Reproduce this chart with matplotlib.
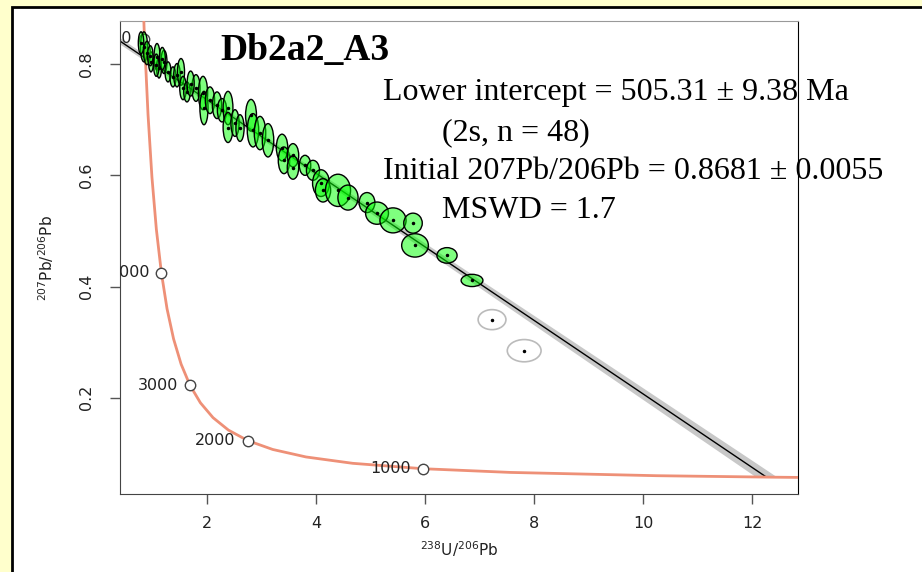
import matplotlib.pyplot as plt
from matplotlib.patches import Ellipse, Rectangle

# concordia curve (Tera-Wasserburg), ages in Ma
conc_age = [450, 500, 600, 800, 1000, 1250, 1500, 1750, 2000, 2250, 2500, 2750,
            3000, 3250, 3500, 3750, 4000, 4250, 4500, 4750, 5000, 5250]
conc_x = [13.83, 12.40, 10.252, 7.568, 5.959, 4.673, 3.817, 3.206, 2.749, 2.394, 2.111, 1.880,
          1.687, 1.525, 1.387, 1.267, 1.163, 1.071, 0.990, 0.918, 0.853, 0.795]
conc_y = [0.05594, 0.05722, 0.05990, 0.06580, 0.07249, 0.08218, 0.09360, 0.10707, 0.12299,
          0.14185, 0.16426, 0.19091, 0.22266, 0.26054, 0.30583, 0.36006, 0.42502, 0.50301,
          0.59672, 0.70947, 0.84531, 1.00904]
tick_ages = [1000, 2000, 3000, 4000, 5000]

# discordia line from initial 207/206 to lower intercept
disc_x = [0.0, 12.264]
disc_y = [0.8681, 0.0574]
band_x = [0.0, 2.0, 4.0, 6.0, 8.0, 10.0, 12.0, 12.46, 12.07, 12.0, 10.0, 8.0, 6.0, 4.0, 2.0, 0.0]
band_y = [0.8741, 0.7409, 0.6087, 0.4779, 0.3477, 0.2175, 0.0873, 0.0572,
          0.0575, 0.0623, 0.1965, 0.3307, 0.4649, 0.5987, 0.7309, 0.8621]

# analyses used in the fit: centre x, centre y, width, height
ell_x = [0.844, 0.899, 0.973, 1.083, 1.120, 1.211, 1.285, 1.376, 1.450, 1.523, 1.560, 1.633,
         1.798, 1.927, 1.945, 2.055, 2.184, 2.276, 2.386, 2.386, 2.514, 2.606, 2.808, 2.844,
         2.973, 3.120, 3.377, 3.413, 3.578, 3.578, 3.799, 3.945, 4.092, 4.129, 4.404, 4.587,
         4.936, 5.120, 5.413, 5.780, 5.817, 6.404, 6.863, 0.790, 0.960, 1.070, 1.180, 1.700]
ell_y = [0.831, 0.820, 0.804, 0.813, 0.793, 0.804, 0.786, 0.777, 0.780, 0.786, 0.757, 0.750,
         0.757, 0.748, 0.721, 0.735, 0.726, 0.717, 0.721, 0.686, 0.694, 0.685, 0.708, 0.681,
         0.676, 0.663, 0.650, 0.627, 0.636, 0.614, 0.618, 0.609, 0.586, 0.573, 0.573, 0.560,
         0.551, 0.532, 0.519, 0.514, 0.474, 0.456, 0.411, 0.838, 0.815, 0.798, 0.810, 0.765]
ell_w = [0.13, 0.12, 0.09, 0.11, 0.09, 0.11, 0.11, 0.11, 0.12, 0.13, 0.12, 0.12,
         0.15, 0.17, 0.15, 0.17, 0.17, 0.17, 0.18, 0.18, 0.15, 0.15, 0.20, 0.21,
         0.21, 0.21, 0.21, 0.21, 0.21, 0.21, 0.21, 0.24, 0.31, 0.28, 0.46, 0.37,
         0.29, 0.42, 0.48, 0.34, 0.49, 0.37, 0.40, 0.10, 0.10, 0.10, 0.11, 0.13]
ell_h = [0.054, 0.042, 0.036, 0.048, 0.036, 0.042, 0.036, 0.036, 0.042, 0.048, 0.042, 0.036,
         0.048, 0.060, 0.060, 0.048, 0.048, 0.042, 0.060, 0.054, 0.048, 0.048, 0.057, 0.060,
         0.060, 0.060, 0.048, 0.048, 0.042, 0.042, 0.036, 0.036, 0.048, 0.042, 0.058, 0.045,
         0.036, 0.040, 0.045, 0.036, 0.042, 0.028, 0.022, 0.040, 0.036, 0.040, 0.040, 0.045]

# rejected analyses
rej_x = [7.23, 7.82]
rej_y = [0.3405, 0.2847]
rej_w = [0.51, 0.62]
rej_h = [0.036, 0.040]

fig = plt.figure(figsize=(9.22, 5.72), dpi=100)
fig.patch.set_facecolor('#FFFFCC')
fig.patches.append(Rectangle((12 / 922, -0.02), 1.0, 1 - 7 / 572 + 0.02,
                             transform=fig.transFigure, facecolor='white',
                             edgecolor='black', linewidth=2, zorder=-1))

ax = fig.add_axes([120 / 922, 1 - 494 / 572, 678 / 922, 473 / 572])
ax.set_xlim(0.404, 12.844)
ax.set_ylim(0.027, 0.8775)

ax.fill(band_x, band_y, color='#C8C8C8', lw=0, zorder=1)
ax.plot(disc_x, disc_y, color='black', lw=1, zorder=2)
ax.plot(conc_x, conc_y, color='#EE9077', lw=2, zorder=3)

for a in tick_ages:
    i = conc_age.index(a)
    ax.plot(conc_x[i], conc_y[i], 'o', ms=7.5, mfc='white', mec='#444444', mew=1, zorder=4)
    ax.annotate(str(a), (conc_x[i], conc_y[i]), xytext=(-12, 0), textcoords='offset pixels',
                ha='right', va='center', fontsize=11.5, color='#222222',
                annotation_clip=False, clip_on=True, zorder=4)

for x, y, w, h in zip(ell_x, ell_y, ell_w, ell_h):
    ax.add_patch(Ellipse((x, y), w, h, facecolor=(0, 1, 0, 0.5), edgecolor='black', lw=1, zorder=5))
ax.plot(ell_x, ell_y, 'o', ms=1.5, color='black', zorder=6)

for x, y, w, h in zip(rej_x, rej_y, rej_w, rej_h):
    ax.add_patch(Ellipse((x, y), w, h, facecolor='none', edgecolor='#BBBBBB', lw=1.2, zorder=5))
ax.plot(rej_x, rej_y, 'o', ms=1.5, color='black', zorder=6)

ax.set_xticks([2, 4, 6, 8, 10, 12])
ax.set_yticks([0.2, 0.4, 0.6, 0.8])
ax.set_yticklabels(['0.2', '0.4', '0.6', '0.8'], rotation=90, va='center')
ax.tick_params(length=7, width=1, color='#555555', labelcolor='#222222', labelsize=11.5)
ax.tick_params(axis='x', pad=9)
ax.tick_params(axis='y', pad=12)
for side in ['left', 'bottom']:
    ax.spines[side].set_color('#444444')
ax.spines['top'].set_color('#999999')
ax.spines['right'].set_color('black')

ax.set_xlabel(r'$^{238}$U/$^{206}$Pb', fontsize=11, color='#222222', labelpad=6)
ax.set_ylabel(r'$^{207}$Pb/$^{206}$Pb', fontsize=11, color='#222222', labelpad=16)

serif = ['Liberation Serif', 'DejaVu Serif']
fig.text(220 / 922, 1 - 60 / 572, 'Db2a2_A3', family=serif, fontsize=27, fontweight='bold', va='baseline')
lines = [(383, 100, 'Lower intercept = 505.31 \u00b1 9.38 Ma'),
         (442, 140, '(2s, n = 48)'),
         (383, 179, 'Initial 207Pb/206Pb = 0.8681 \u00b1 0.0055'),
         (442, 218, 'MSWD = 1.7')]
for x, y, s in lines:
    fig.text(x / 922, 1 - y / 572, s, family=serif, fontsize=23, va='baseline')

fig.savefig('out.png', dpi=100, facecolor=fig.get_facecolor())
